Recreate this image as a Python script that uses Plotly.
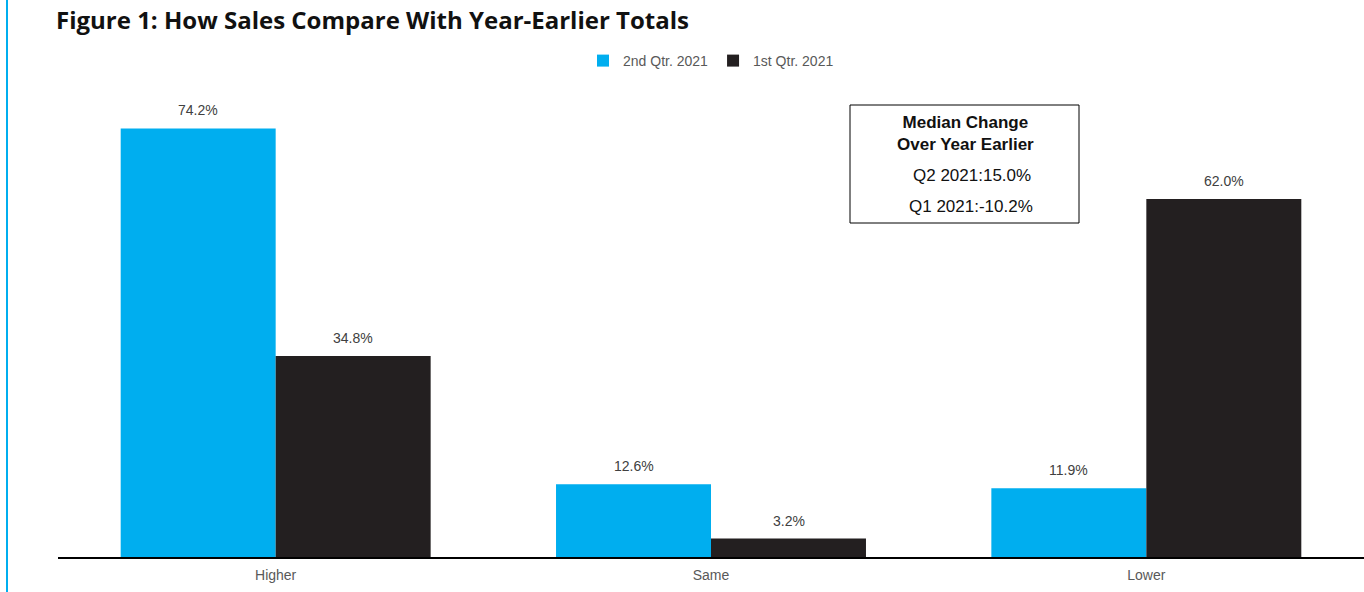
import plotly.graph_objects as go

categories = ["Higher", "Same", "Lower"]
q2_2021 = [74.2, 12.6, 11.9]
q1_2021 = [34.8, 3.2, 62.0]
series_names = ["2nd Qtr. 2021", "1st Qtr. 2021"]
median_lines = ["Q2 2021:15.0%", "Q1 2021:-10.2%"]

BLUE = "#00AEEF"
DARK = "#231F20"
GRAY = "#595959"
FONT = "Liberation Sans, Arial, sans-serif"

W, H = 1364, 592
L, R, T, B = 58, 0, 95, 35
pw, ph = W - L - R, H - T - B


def px_x(x):
    return (x - L) / pw


def px_y(y):
    return 1 - (y - T) / ph


fig = go.Figure()
series = [(series_names[0], q2_2021, BLUE, -77.5), (series_names[1], q1_2021, DARK, 77.5)]
for name, vals, color, shift in series:
    fig.add_trace(go.Bar(name=name, x=categories, y=vals, marker_color=color,
                         marker_line_width=0))
    # value labels above each bar
    for cat, v in zip(categories, vals):
        fig.add_annotation(x=cat, y=v, xref="x", yref="y", text=f"{v:.1f}%",
                           showarrow=False, xanchor="center", yanchor="bottom",
                           xshift=shift, yshift=8,
                           font=dict(size=14, color="#404040", family=FONT))

fig.update_layout(
    width=W, height=H,
    margin=dict(l=L, r=R, t=T, b=B),
    paper_bgcolor="white", plot_bgcolor="white",
    barmode="group", bargap=0.288, bargroupgap=0,
    font=dict(family=FONT, color=GRAY, size=14),
    title=dict(
        text="<b>Figure 1: How Sales Compare With Year-Earlier Totals</b>",
        x=56 / W, xanchor="left", y=1 - 21 / H, yanchor="middle",
        font=dict(size=24, color="#111111", family="Open Sans, Arial"),
    ),
    legend=dict(
        orientation="h", x=0.5, xanchor="center", y=px_y(61), yanchor="middle",
        font=dict(size=14, color=GRAY, family=FONT), traceorder="normal",
        itemwidth=30,
    ),
    xaxis=dict(showline=True, linecolor="black", linewidth=2, ticks="",
               ticklabelstandoff=4,
               tickfont=dict(size=14, color=GRAY, family=FONT), showgrid=False),
    yaxis=dict(range=[0, 80], visible=False, showgrid=False),
    showlegend=True,
)

# left accent rule
fig.add_shape(type="line", xref="paper", yref="paper",
              x0=px_x(7), x1=px_x(7), y0=px_y(0), y1=px_y(592),
              line=dict(color=BLUE, width=2))

# median change box
fig.add_shape(type="rect", xref="paper", yref="paper",
              x0=px_x(850), x1=px_x(1079), y0=px_y(223), y1=px_y(105),
              line=dict(color="black", width=1), fillcolor="white")
fig.add_annotation(xref="paper", yref="paper", x=px_x(965), y=px_y(133),
                   xanchor="center", yanchor="middle",
                   text="<b>Median Change<br>Over Year Earlier</b>", showarrow=False,
                   font=dict(size=17, color="#111111", family=FONT), align="center")
fig.add_annotation(xref="paper", yref="paper", x=px_x(972), y=px_y(175),
                   xanchor="center", yanchor="middle",
                   text=median_lines[0], showarrow=False,
                   font=dict(size=17, color="#111111", family=FONT))
fig.add_annotation(xref="paper", yref="paper", x=px_x(971), y=px_y(206),
                   xanchor="center", yanchor="middle",
                   text=median_lines[1], showarrow=False,
                   font=dict(size=17, color="#111111", family=FONT))

fig.write_html("out.html")
